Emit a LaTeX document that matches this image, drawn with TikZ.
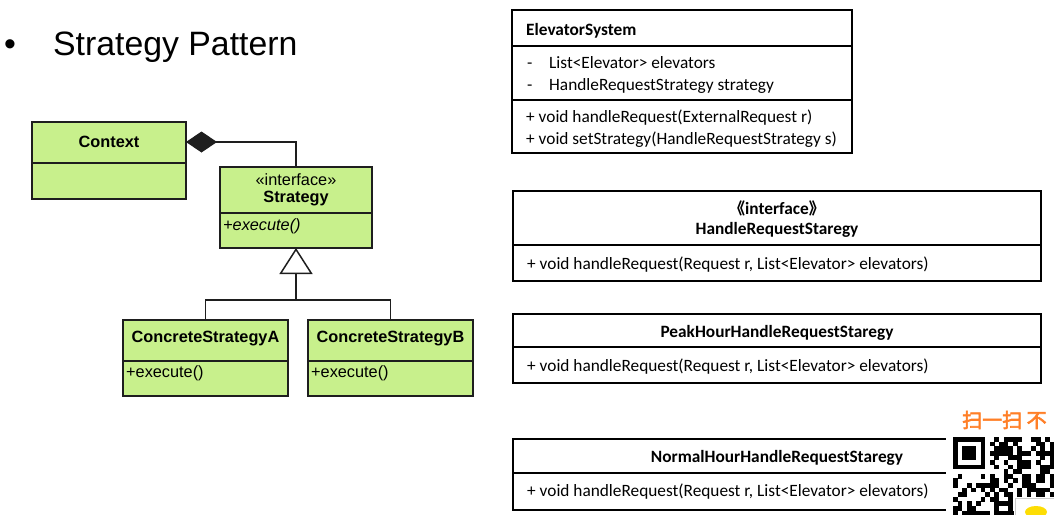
\documentclass[tikz,border=0pt]{standalone}
\usepackage{xcolor}
\usepackage{fontspec}
\setmainfont{Liberation Sans}
\newfontfamily\calibri{Carlito}
\newfontfamily\cjkfont{Noto Sans CJK SC}
\newfontfamily\qrfont[FakeBold=3]{Noto Sans CJK SC}
\usepackage{tikz}
\usetikzlibrary{positioning,arrows.meta}
\definecolor{umlgreen}{RGB}{200,240,140}
\definecolor{umledge}{RGB}{30,30,30}
\definecolor{qrorange}{RGB}{255,127,39}

\begin{document}
\begin{tikzpicture}[x=1pt, y=-1pt,
  greenbox/.style={draw=umledge, fill=umlgreen, line width=2pt, inner sep=0pt, outer sep=0pt, anchor=north west},
  plainbox/.style={draw=black, line width=1.8pt, inner sep=0pt, outer sep=0pt, anchor=north west},
  greenline/.style={umledge, line width=2pt},
  plainline/.style={black, line width=1.8pt},
  edgeline/.style={umledge, line width=1.5pt},
  umltext/.style={font=\fontsize{16.3}{18}\selectfont, inner sep=0pt},
  umltitle/.style={font=\fontsize{16.3}{18}\selectfont\bfseries, inner sep=0pt},
  cltext/.style={font=\calibri\fontsize{17.3}{20}\selectfont, inner sep=0pt, text height=0.72em, text depth=0.22em, yshift=-3.5pt, anchor=west},
  cltitle/.style={font=\calibri\fontsize{17.3}{20}\selectfont\bfseries, inner sep=0pt, text height=0.72em, text depth=0.22em, yshift=-3.5pt}]

\useasboundingbox (0,0) rectangle (1054,514);

%% heading
\node[font=\fontsize{33.8}{40}\selectfont, inner sep=0pt, anchor=base west] (bullet) at (4,55) {•};
\node[font=\fontsize{33.8}{40}\selectfont, inner sep=0pt, anchor=base west] (heading) at (53,55) {Strategy Pattern};

%% left: strategy pattern classes
\node[greenbox, minimum width=154pt, minimum height=77pt] (context) at (32,122) {};
\draw[greenline] ([yshift=-41pt]context.north west) -- ([yshift=-41pt]context.north east);
\node[umltitle] (contextname) at (109,142) {Context};

\node[greenbox, minimum width=152pt, minimum height=81pt] (strategy) at (220,167) {};
\draw[greenline] ([yshift=-46pt]strategy.north west) -- ([yshift=-46pt]strategy.north east);
\node[umltext] (stereo) at (296,180) {«interface»};
\node[umltitle] (strategyname) at (296,199) {Strategy};
\node[umltext, anchor=west] (strategyop) at (223,226) {\itshape +execute()};

\node[greenbox, minimum width=165pt, minimum height=76pt] (csa) at (123,320) {};
\draw[greenline] ([yshift=-41pt]csa.north west) -- ([yshift=-41pt]csa.north east);
\node[umltitle] (csaname) at (205.5,339) {ConcreteStrategyA};
\node[umltext, anchor=west] (csaop) at (126,373) {+execute()};

\node[greenbox, minimum width=165pt, minimum height=76pt] (csb) at (308,320) {};
\draw[greenline] ([yshift=-41pt]csb.north west) -- ([yshift=-41pt]csb.north east);
\node[umltitle] (csbname) at (390.5,339) {ConcreteStrategyB};
\node[umltext, anchor=west] (csbop) at (311,373) {+execute()};

%% composition and realization
\draw[edgeline, {Diamond[length=31pt,width=21pt]}-] ([yshift=-20pt]context.north east) -| (strategy.north);
\draw[edgeline, -{Triangle[open,length=26pt,width=33pt,fill=white]}] (csa.north) |- ([yshift=-52pt]strategy.south) -- (strategy.south);
\draw[edgeline] (csb.north) |- ([yshift=-52pt]strategy.south);

%% right: elevator classes
\node[plainbox, minimum width=340pt, minimum height=143pt] (elevsys) at (512,10) {};
\draw[plainline] ([yshift=-36pt]elevsys.north west) -- ([yshift=-36pt]elevsys.north east);
\draw[plainline] ([yshift=-90pt]elevsys.north west) -- ([yshift=-90pt]elevsys.north east);
\node[cltitle, anchor=west] (elevsysname) at (526,29) {ElevatorSystem};
\node[cltext] (dasha) at (527,62) {-};
\node[cltext] (attra) at (549,62) {List<Elevator> elevators};
\node[cltext] (dashb) at (527,84) {-};
\node[cltext] (attrb) at (549,84) {HandleRequestStrategy strategy};
\node[cltext] (opa) at (526,116) {+ void handleRequest(ExternalRequest r)};
\node[cltext] (opb) at (526,138) {+ void setStrategy(HandleRequestStrategy s)};

\node[plainbox, minimum width=528pt, minimum height=90pt] (handler) at (513,191) {};
\draw[plainline] ([yshift=-54pt]handler.north west) -- ([yshift=-54pt]handler.north east);
\node[cltitle] (handlerstereo) at (777,208) {{\cjkfont\fontsize{16}{18}\selectfont 《}interface{\cjkfont\fontsize{16}{18}\selectfont 》}};
\node[cltitle] (handlername) at (777,228) {HandleRequestStaregy};
\node[cltext] (handlerop) at (527,263) {+ void handleRequest(Request r, List<Elevator> elevators)};

\node[plainbox, minimum width=528pt, minimum height=69pt] (peak) at (513,314) {};
\draw[plainline] ([yshift=-33pt]peak.north west) -- ([yshift=-33pt]peak.north east);
\node[cltitle] (peakname) at (777,331) {PeakHourHandleRequestStaregy};
\node[cltext] (peakop) at (527,365) {+ void handleRequest(Request r, List<Elevator> elevators)};

\node[plainbox, minimum width=528pt, minimum height=71pt] (normal) at (513,439) {};
\draw[plainline] ([yshift=-34pt]normal.north west) -- ([yshift=-34pt]normal.north east);
\node[cltitle] (normalname) at (777,456) {NormalHourHandleRequestStaregy};
\node[cltext] (normalop) at (527,490) {+ void handleRequest(Request r, List<Elevator> elevators)};

%% qr watermark (cut off at the page edge)
\begin{scope}
\clip (0,0) rectangle (1054,514);
\fill[white] (946,431) rectangle (1060,520);
\node[font=\qrfont\fontsize{20}{22}\selectfont, text=qrorange, inner sep=0pt, anchor=west] (qrlabel) at (962,420) {扫一扫 不};
\pgfmathsetseed{11}
\foreach \i in {0,...,22}{
  \foreach \j in {0,...,17}{
    \pgfmathsetmacro{\qrbit}{(rnd>0.45)*((\i>7)||(\j>7))}
    \ifdim\qrbit pt>0.5pt \fill[black] (953+4.6*\i,437+4.6*\j) rectangle ++(4.7,4.7); \fi
  }
}
\fill[black] (953,437) rectangle ++(32.2,32.2);
\fill[white] (957.6,441.6) rectangle ++(23,23);
\fill[black] (962.2,446.2) rectangle ++(13.8,13.8);
\fill[white] (1014,497) rectangle (1060,520);
\draw[gray!40, line width=1pt] (1015,498) rectangle (1060,520);
\fill[yellow!80!orange] (1036,512) ellipse (11 and 6);
\end{scope}

\end{tikzpicture}
\end{document}
